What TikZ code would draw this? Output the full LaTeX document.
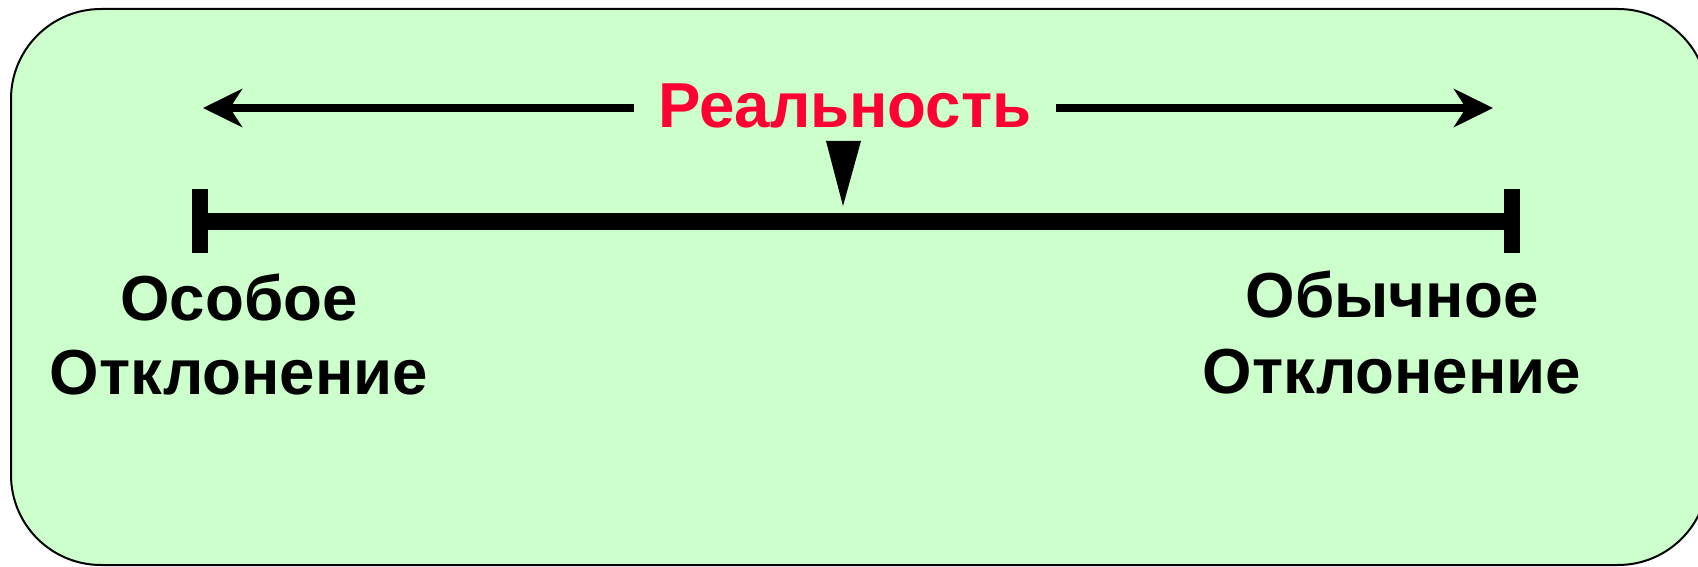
\documentclass[tikz,border=0pt]{standalone}
\usepackage{fontspec}
\setmainfont{Liberation Sans}
\usetikzlibrary{arrows.meta}
\definecolor{bgreen}{HTML}{CCFFCC}
\definecolor{rred}{HTML}{FF0033}
\tikzset{
  lbl/.style={font=\fontsize{31.8}{37}\selectfont\bfseries, align=center, inner sep=0pt},
  thinarrow/.style={line width=4pt, -{Stealth[length=19.5pt, width=19pt, inset=6pt]}},
  capbox/.style={fill=black, inner sep=0pt, minimum width=8pt, minimum height=32pt},
}
\begin{document}
\begin{tikzpicture}[x=0.5pt, y=-0.5pt]
\useasboundingbox (0,0) rectangle (1698,567);
\draw[fill=bgreen, line width=1pt, rounded corners=45pt] (11,9) rectangle (1708,565);
% title
\node[lbl, text=rred, anchor=base, inner xsep=12pt] (real) at (845,128) {Реальность};
\coordinate (la) at (203,108);
\coordinate (ra) at (1493,108);
\draw[thinarrow] (real.west |- la) -- (la);
\draw[thinarrow] (real.east |- ra) -- (ra);
% pointer
\fill (826,141) -- (861,141) -- (843,206) -- cycle;
% main bar
\node[capbox] (lc) at (200,221) {};
\node[capbox] (rc) at (1512,221) {};
\draw[line width=8.5pt] (lc.center) -- (rc.center);
% labels
\node[lbl, anchor=base] (l1) at (239,320) {Особое};
\node[lbl, anchor=base] (l2) at (239,394) {Отклонение};
\node[lbl, anchor=base] (r1) at (1392,317) {Обычное};
\node[lbl, anchor=base] (r2) at (1392,393) {Отклонение};
\end{tikzpicture}
\end{document}
